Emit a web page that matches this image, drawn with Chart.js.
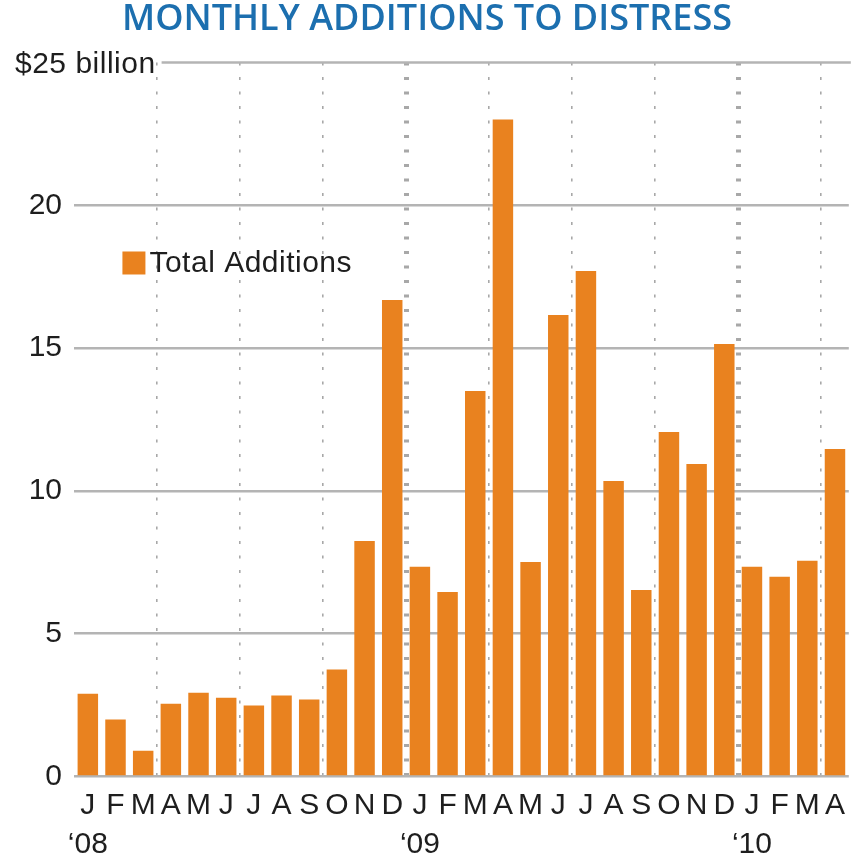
<!DOCTYPE html>
<html><head><meta charset="utf-8">
<script src="https://cdn.jsdelivr.net/npm/chart.js@4/dist/chart.umd.min.js"></script>
<style>html,body{margin:0;padding:0;background:#fff}</style>
</head><body>
<canvas id="c" width="855" height="861"></canvas>
<script>
// ---- data ----
const months = ['J','F','M','A','M','J','J','A','S','O','N','D',
                'J','F','M','A','M','J','J','A','S','O','N','D',
                'J','F','M','A'];
const yearLabels = ['\u201808','','','','','','','','','','','',
                    '\u201809','','','','','','','','','','','',
                    '\u201810','','',''];
const totalAdditions = [2.9, 2.0, 0.9, 2.55, 2.93, 2.76, 2.49, 2.84, 2.7, 3.75, 8.25, 16.68,
                        7.34, 6.46, 13.5, 23.0, 7.51, 16.16, 17.7, 10.35, 6.53, 12.06, 10.94, 15.14,
                        7.34, 6.99, 7.55, 11.47];
const yTickValues = [0, 5, 10, 15, 20, 25];
const seriesLabel = 'Total Additions';
const titleText = 'MONTHLY ADDITIONS TO DISTRESS';
const topTickLabel = '$25 billion';

// ---- styles ----
const ORANGE = '#E9821F';
const GRID = '#B4B4B4';
const DOTS = '#A8A8A8';
const TEXT = '#1E1E1E';
const FONT = '"Liberation Sans", Arial, sans-serif';

const labels = months.map((m, i) => yearLabels[i] ? [m, yearLabels[i]] : m);

const overlay = {
  id: 'overlay',
  beforeDatasetsDraw(chart) {
    const ctx = chart.ctx, y = chart.scales.y, area = chart.chartArea;
    const yy = y.getPixelForValue(yTickValues[yTickValues.length - 1]);
    ctx.save();
    ctx.font = '30px ' + FONT;
    ctx.letterSpacing = '0.5px';
    ctx.fillStyle = TEXT;
    ctx.textAlign = 'left';
    ctx.textBaseline = 'middle';
    ctx.fillText(topTickLabel, 15, yy + 2);
    const w = ctx.measureText(topTickLabel).width;
    ctx.strokeStyle = GRID;
    ctx.lineWidth = 2.5;
    ctx.beginPath();
    ctx.moveTo(15 + w + 6, yy);
    ctx.lineTo(area.right + 2, yy);
    ctx.stroke();
    ctx.restore();
  },
  afterDraw(chart) {
    const ctx = chart.ctx, y = chart.scales.y, x = chart.scales.x;
    const ds = chart.data.datasets[0];
    // legend placed inside plot area
    const lx = x.getPixelForValue(1.25);
    const ly = y.getPixelForValue(17.98);
    ctx.save();
    ctx.fillStyle = ds.backgroundColor;
    ctx.fillRect(lx, ly - 11.5, 23, 23);
    ctx.font = '30px ' + FONT;
    ctx.letterSpacing = '0.5px';
    ctx.fillStyle = TEXT;
    ctx.textAlign = 'left';
    ctx.textBaseline = 'middle';
    ctx.fillText(ds.label, lx + 27, ly + 1);
    ctx.restore();
  }
};

new Chart(document.getElementById('c'), {
  type: 'bar',
  data: {
    labels: labels,
    datasets: [{
      label: seriesLabel,
      data: totalAdditions,
      backgroundColor: ORANGE,
      borderWidth: 0,
      categoryPercentage: 1.0,
      barPercentage: 0.74
    }]
  },
  options: {
    responsive: false,
    animation: false,
    devicePixelRatio: 1,
    layout: { padding: { left: 0, right: 1, top: 0, bottom: 0 } },
    plugins: {
      legend: { display: false },
      tooltip: { enabled: false },
      title: {
        display: true,
        text: titleText,
        color: '#1C6FAF',
        font: { family: '"Open Sans", sans-serif', size: 36, weight: '600', lineHeight: 1.0 },
        padding: { top: 2, bottom: 24.5 }
      }
    },
    scales: {
      x: {
        offset: true,
        grid: {
          offset: true,
          drawTicks: false,
          color: (c) => (c.index > 0 && c.index < months.length && c.index % 3 === 0) ? DOTS : 'rgba(0,0,0,0)',
          lineWidth: (c) => (c.index % 12 === 0) ? 5 : 1.6
        },
        border: { display: false, dash: [3, 11.5] },
        ticks: {
          color: TEXT,
          font: { family: FONT, size: 30, lineHeight: 1.3 },
          padding: 10,
          autoSkip: false,
          maxRotation: 0,
          minRotation: 0
        },
        afterFit(s) { s.height = 84.5; }
      },
      y: {
        min: 0,
        max: 25,
        afterBuildTicks(s) { s.ticks = yTickValues.map(v => ({ value: v })); },
        grid: {
          drawTicks: false,
          color: (c) => (c.tick && c.tick.value === yTickValues[yTickValues.length - 1]) ? 'rgba(0,0,0,0)' : GRID,
          lineWidth: 2.5
        },
        border: { display: false },
        ticks: {
          color: TEXT,
          font: { family: FONT, size: 30 },
          padding: 12,
          callback: (v) => v === yTickValues[yTickValues.length - 1] ? '' : String(v)
        },
        afterFit(s) { s.width = 74; }
      }
    }
  },
  plugins: [overlay]
});
</script>
</body></html>
